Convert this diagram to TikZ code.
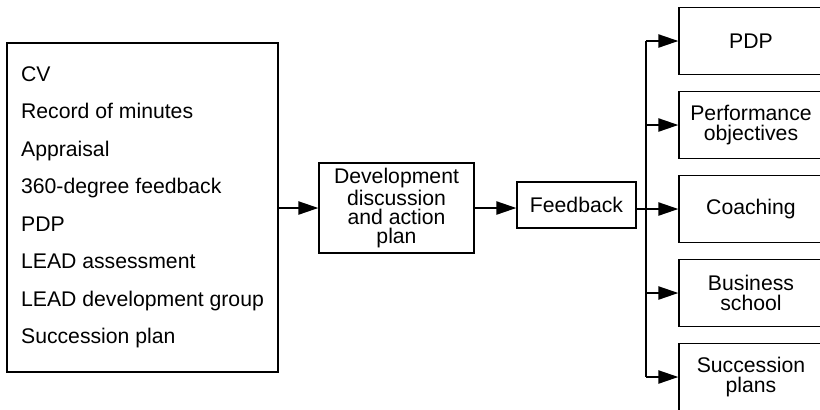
\documentclass[tikz,border=0pt]{standalone}
\usepackage{fontspec}
\setmainfont{Liberation Sans}
\usetikzlibrary{arrows.meta}

\tikzset{
  box/.style={draw, line width=0.6pt, inner sep=0pt, align=center,
    font=\fontsize{10.6}{9.6}\selectfont},
  outbox/.style={box, minimum width=72pt, minimum height=33.5pt,
    font=\fontsize{10.6}{10}\selectfont},
  arr/.style={line width=1.1pt, -{Triangle[length=10pt,width=6.5pt]}}
}

\begin{document}
\begin{tikzpicture}[x=0.5pt,y=-0.5pt]
  \clip (0,0) rectangle (820,409);

  % sources
  \node[box, minimum width=135.5pt, minimum height=164.5pt, align=left,
    font=\fontsize{10.6}{18.75}\selectfont] (src) at (142.5,207.5)
    {CV\\Record of minutes\\Appraisal\\360-degree feedback\\PDP\\
     LEAD assessment\\LEAD development group\\Succession plan};

  % discussion and feedback
  \node[box, minimum width=77.5pt, minimum height=45pt] (dev) at (396.5,208)
    {Development\\discussion\\and action\\plan};
  \node[box, minimum width=59.5pt, minimum height=23pt] (fb) at (576.5,205)
    {Feedback};

  % outcomes
  \node[outbox] (pdp)   at (751,41)  {PDP};
  \node[outbox] (perf)  at (751,125) {Performance\\objectives};
  \node[outbox] (coach) at (751,209) {Coaching};
  \node[outbox] (bus)   at (751,293) {Business\\school};
  \node[outbox] (succ)  at (751,377) {Succession\\plans};

  \coordinate (split) at (646,209);

  \draw[arr] (src.east |- dev) -- (dev);
  \draw[arr] (dev.east) -- (dev.east -| fb.west);
  \draw[line width=1.1pt] (fb.east |- split) -- (split);
  \draw[line width=1.1pt] (split |- pdp) -- (split |- succ);
  \foreach \n in {pdp,perf,coach,bus,succ}
    \draw[arr] (split |- \n) -- (\n.west);
\end{tikzpicture}
\end{document}
